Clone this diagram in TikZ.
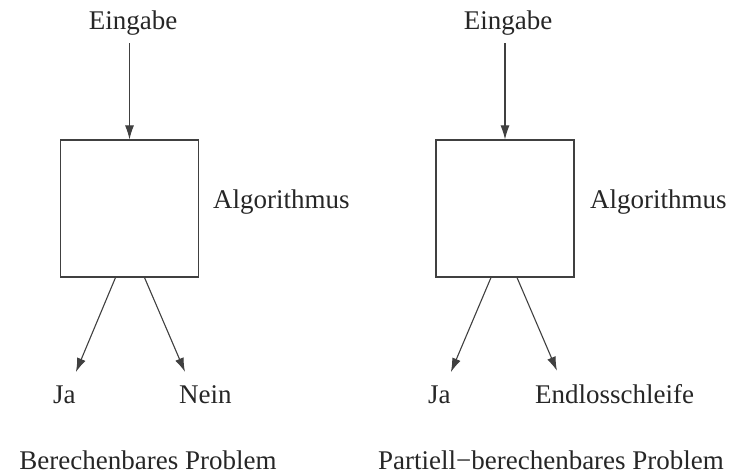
\documentclass[tikz,border=0pt]{standalone}
\usepackage{fontspec}
\setmainfont{Liberation Serif}
\usetikzlibrary{arrows.meta,calc}
\begin{document}
\begin{tikzpicture}[x=1pt,y=-1pt,
  lbl/.style={inner sep=0pt,anchor=base,font=\fontsize{27}{30}\selectfont,text=black!85},
  algbox/.style={draw=black!75,line width=1.1pt,minimum width=138pt,minimum height=137pt,inner sep=0pt},
  conn/.style={draw=black!75,line width=1.1pt,-{Latex[length=14pt,width=9pt]}}]
\useasboundingbox (0,0) rectangle (733,476);
% left
\node[lbl] (ein1) at (133,30) {Eingabe};
\node[algbox] (box1) at (129.5,208.5) {};
\node[lbl,anchor=base west] (alg1) at (213,208) {Algorithmus};
\node[lbl,anchor=base west] (ja1) at (53,403) {Ja};
\node[lbl,anchor=base west] (nein) at (179,403) {Nein};
\node[lbl] (t1) at (148,469) {Berechenbares Problem};
\draw[conn] (box1.north |- ein1.south) ++(0,7) -- (box1.north);
\draw[conn] ($(box1.south)+(-14,0)$) -- ($(ja1.north east)+(0,-13)$);
\draw[conn] ($(box1.south)+(15,0)$) -- ($(nein.north west)+(6,-13)$);
% right
\node[lbl] (ein2) at (508,30) {Eingabe};
\node[algbox] (box2) at (505,208.5) {};
\node[lbl,anchor=base west] (alg2) at (590,208) {Algorithmus};
\node[lbl,anchor=base west] (ja2) at (428,403) {Ja};
\node[lbl,anchor=base west] (endl) at (535,403) {Endlosschleife};
\node[lbl] (t2) at (551,469) {Partiell−berechenbares Problem};
\draw[conn] (box2.north |- ein2.south) ++(0,7) -- (box2.north);
\draw[conn] ($(box2.south)+(-14,0)$) -- ($(ja2.north east)+(0,-13)$);
\draw[conn] ($(box2.south)+(12,0)$) -- ($(endl.north west)+(22,-13)$);
\end{tikzpicture}
\end{document}
